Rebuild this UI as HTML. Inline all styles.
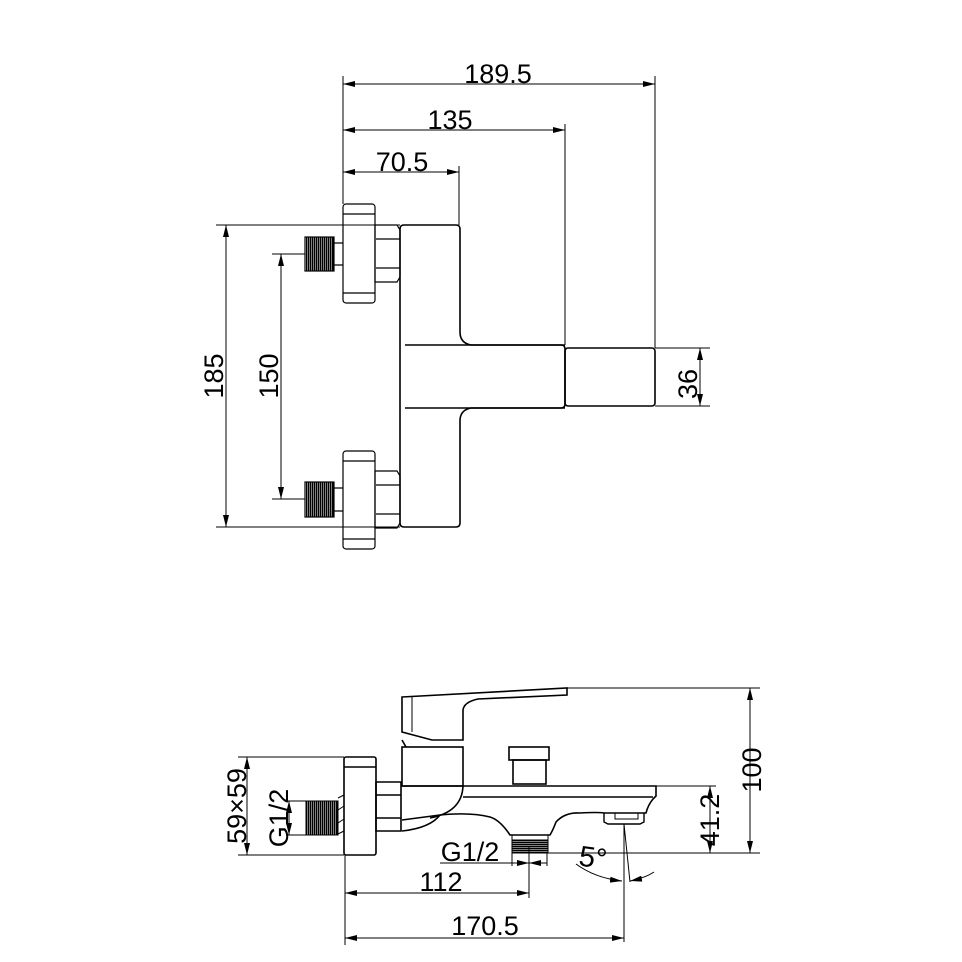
<!DOCTYPE html>
<html><head><meta charset="utf-8"><style>html,body{margin:0;padding:0;background:#fff}svg{display:block}</style></head>
<body>
<svg width="962" height="962" viewBox="0 0 962 962" xmlns="http://www.w3.org/2000/svg" font-family="Liberation Sans, sans-serif" font-size="27" fill="none" stroke="#000">
<defs>
<marker id="a" viewBox="0 0 12 6" refX="12" refY="3" markerWidth="12" markerHeight="6" orient="auto-start-reverse" markerUnits="userSpaceOnUse"><path d="M0,0L12,3L0,6z" fill="#000" stroke="none"/></marker>
<pattern id="th" width="2" height="4" patternUnits="userSpaceOnUse"><rect width="1.5" height="4" fill="#000" stroke="none"/></pattern>
<pattern id="th2" width="4" height="2" patternUnits="userSpaceOnUse"><rect width="4" height="1.5" fill="#000" stroke="none"/></pattern>
</defs>
<g stroke-width="1">
<line x1="343" y1="76" x2="343" y2="204"/>
<line x1="655" y1="76" x2="655" y2="348"/>
<line x1="565" y1="124" x2="565" y2="345"/>
<line x1="459" y1="166" x2="459" y2="225"/>
<line x1="343" y1="84" x2="655" y2="84" marker-start="url(#a)" marker-end="url(#a)"/>
<line x1="343" y1="130" x2="565" y2="130" marker-start="url(#a)" marker-end="url(#a)"/>
<line x1="343" y1="172" x2="459" y2="172" marker-start="url(#a)" marker-end="url(#a)"/>
<line x1="216" y1="225" x2="400" y2="225"/>
<line x1="216" y1="527" x2="400" y2="527"/>
<line x1="226" y1="225" x2="226" y2="527" marker-start="url(#a)" marker-end="url(#a)"/>
<line x1="272" y1="254" x2="305" y2="254"/>
<line x1="272" y1="499" x2="305" y2="499"/>
<line x1="281" y1="254" x2="281" y2="499" marker-start="url(#a)" marker-end="url(#a)"/>
<line x1="655" y1="348" x2="710" y2="348"/>
<line x1="655" y1="406" x2="710" y2="406"/>
<line x1="700" y1="348" x2="700" y2="406" marker-start="url(#a)" marker-end="url(#a)"/>
</g>
<g fill="#000" stroke="none">
<text x="498" y="83" text-anchor="middle">189.5</text>
<text x="450" y="129" text-anchor="middle">135</text>
<text x="402" y="171" text-anchor="middle">70.5</text>
<text transform="translate(223,376) rotate(-90)" text-anchor="middle">185</text>
<text transform="translate(278,376) rotate(-90)" text-anchor="middle">150</text>
<text transform="translate(697,384) rotate(-90)" text-anchor="middle">36</text>
</g>
<g stroke-width="1.6">
<path d="M404,225 H456 Q460,225 460,229 V332 Q460,343 471,345 H561 Q565,345 565,349 V404 Q565,408 561,408 H471 Q460,410 460,421 V523 Q460,527 456,527 H404 Q400,527 400,523 V229 Q400,225 404,225Z"/>
<path d="M405,345 H565 M405,408 H565"/>
<rect x="565" y="348" width="90" height="58" rx="3"/>
</g>
<g stroke-width="1.2">
<rect x="343" y="204" width="32" height="99" rx="3"/><line x1="343" y1="214" x2="375" y2="214"/><line x1="343" y1="293" x2="375" y2="293"/>
<rect x="343" y="451" width="32" height="98" rx="3"/><line x1="343" y1="461" x2="375" y2="461"/><line x1="343" y1="539" x2="375" y2="539"/>
<path d="M375,225 H397 L400,230 V277 L397,282 H375Z M376,239 H400 M376,268 H400"/>
<path d="M375,471 H397 L400,476 V523 L397,528 H375Z M376,485 H400 M376,514 H400"/>
<rect x="305" y="237" width="29" height="34" fill="url(#th)"/>
<rect x="305" y="482" width="29" height="35" fill="url(#th)"/>
<path d="M334,243 H343 M334,265 H343 M334,488 H343 M334,511 H343"/>
</g>

<!-- BOTTOM VIEW -->
<g stroke-width="1">
<line x1="238" y1="757" x2="344" y2="757"/>
<line x1="238" y1="855" x2="344" y2="855"/>
<line x1="247" y1="757" x2="247" y2="855" marker-start="url(#a)" marker-end="url(#a)"/>
<line x1="286" y1="801" x2="306" y2="801"/>
<line x1="286" y1="835" x2="306" y2="835"/>
<line x1="289" y1="801" x2="289" y2="835" marker-start="url(#a)" marker-end="url(#a)"/>
<line x1="567" y1="688" x2="760" y2="688"/>
<line x1="750" y1="688" x2="750" y2="853" marker-start="url(#a)" marker-end="url(#a)"/>
<line x1="656" y1="786" x2="716" y2="786"/>
<line x1="710" y1="786" x2="710" y2="853" marker-start="url(#a)" marker-end="url(#a)"/>
<line x1="548" y1="853" x2="760" y2="853"/>
<line x1="345" y1="855" x2="345" y2="945"/>
<line x1="529" y1="846" x2="529" y2="898"/>
<line x1="512" y1="853" x2="512" y2="866"/>
<line x1="547" y1="853" x2="547" y2="866"/>
<line x1="624" y1="824" x2="624" y2="942"/>
<line x1="345" y1="893" x2="529" y2="893" marker-start="url(#a)" marker-end="url(#a)"/>
<line x1="345" y1="938" x2="624" y2="938" marker-start="url(#a)" marker-end="url(#a)"/>
<line x1="440" y1="863" x2="529" y2="863" marker-end="url(#a)"/>
<line x1="547" y1="863" x2="529" y2="863" marker-end="url(#a)"/>
<line x1="624" y1="824" x2="630" y2="882"/>
<path d="M576,864 Q595,878 622,881" marker-end="url(#a)"/>
<path d="M654,872 Q645,878 630,881" marker-end="url(#a)"/>
</g>
<g fill="#000" stroke="none">
<text transform="translate(246,806) rotate(-90)" text-anchor="middle">59×59</text>
<text transform="translate(288,818) rotate(-90)" text-anchor="middle">G1/2</text>
<text transform="translate(761,770) rotate(-90)" text-anchor="middle">100</text>
<text transform="translate(719,820) rotate(-90)" text-anchor="middle">41.2</text>
<text x="470" y="861" text-anchor="middle">G1/2</text>
<text x="441" y="891" text-anchor="middle">112</text>
<text x="485" y="935" text-anchor="middle">170.5</text>
<text x="579" y="867" font-size="29" transform="rotate(8 590 858)">5°</text>
</g>
<g stroke-width="1.6">
<rect x="344" y="757" width="32" height="98" rx="2"/>
<line x1="344" y1="767" x2="376" y2="767"/>
<path d="M376,782 H401 V831 H376Z M376,795 H401 M376,818 H401"/>
<rect x="306" y="801" width="32" height="34" fill="url(#th)" stroke-width="1"/>
<path d="M338,798 L344,795 M338,810 L344,806 M338,823 L344,819 M338,834 L344,831" stroke-width="1"/>
<path d="M402,697 L567,688 V695 L478,699 Q464,702 463,710 V740 L432,740 L402,732Z"/>
<path d="M412,697 V732" stroke-width="1"/>
<path d="M406,747 L402,740"/>
<rect x="402" y="747" width="61" height="39"/>
<rect x="509" y="747" width="40" height="13"/>
<rect x="513" y="760" width="33" height="24"/>
<path d="M402,786 H656 V796 L653,799 Q648,805 646,813 H604 Q598,812 580,813 Q565,812 556,822 Q553,830 550,835 H510 Q500,820 490,817 Q470,812 440,815 L402,820"/>
<path d="M463,797 H653"/>
<path d="M463,786 Q462,812 430,818"/>
<path d="M402,831 Q430,828 440,815"/>
<path d="M604,813 V822 L608,824 H640 L644,822 V813" stroke-width="1.4"/>
<path d="M615,813 V819 H638 V813" stroke-width="1"/>
<rect x="512" y="835" width="36" height="5" stroke-width="1"/>
<rect x="512" y="840" width="36" height="13" fill="url(#th2)" stroke-width="1"/>
</g>
</svg>
</body></html>
